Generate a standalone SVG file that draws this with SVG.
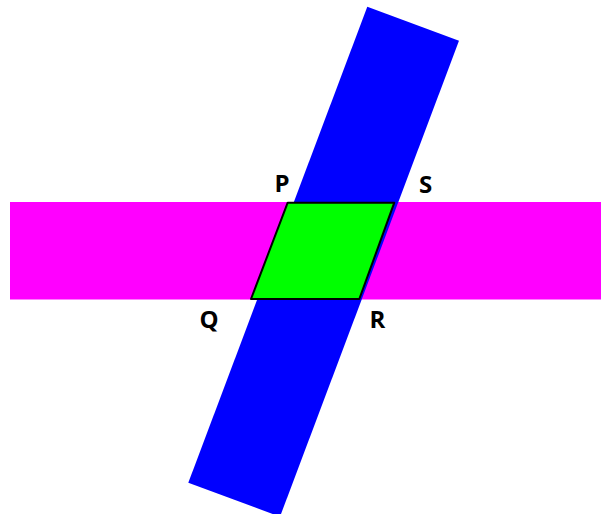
<svg xmlns="http://www.w3.org/2000/svg" width="601" height="514" viewBox="0 0 601 514">
<rect width="601" height="514" fill="#fff"/>
<g id="band-h"><rect x="10" y="202" width="591" height="97.5" fill="#ff00ff"/></g>
<g id="band-v"><polygon points="367.3,6.7 459,40.7 280,516.7 188.3,482.7" fill="#0000ff"/></g>
<g id="parallelogram"><polygon points="287.7,202.7 394.3,202.7 359.3,299 251,299" fill="#00ff00" stroke="#000" stroke-width="2" stroke-linejoin="round"/></g>
<g id="labels" font-family="'Open Sans','Noto Sans',sans-serif" font-weight="bold" font-size="24" fill="#000" text-anchor="middle">
<text x="282" y="192.3">P</text>
<text x="425.5" y="193">S</text>
<text x="209" y="328.3">Q</text>
<text x="377.5" y="328.3">R</text>
</g>
</svg>
